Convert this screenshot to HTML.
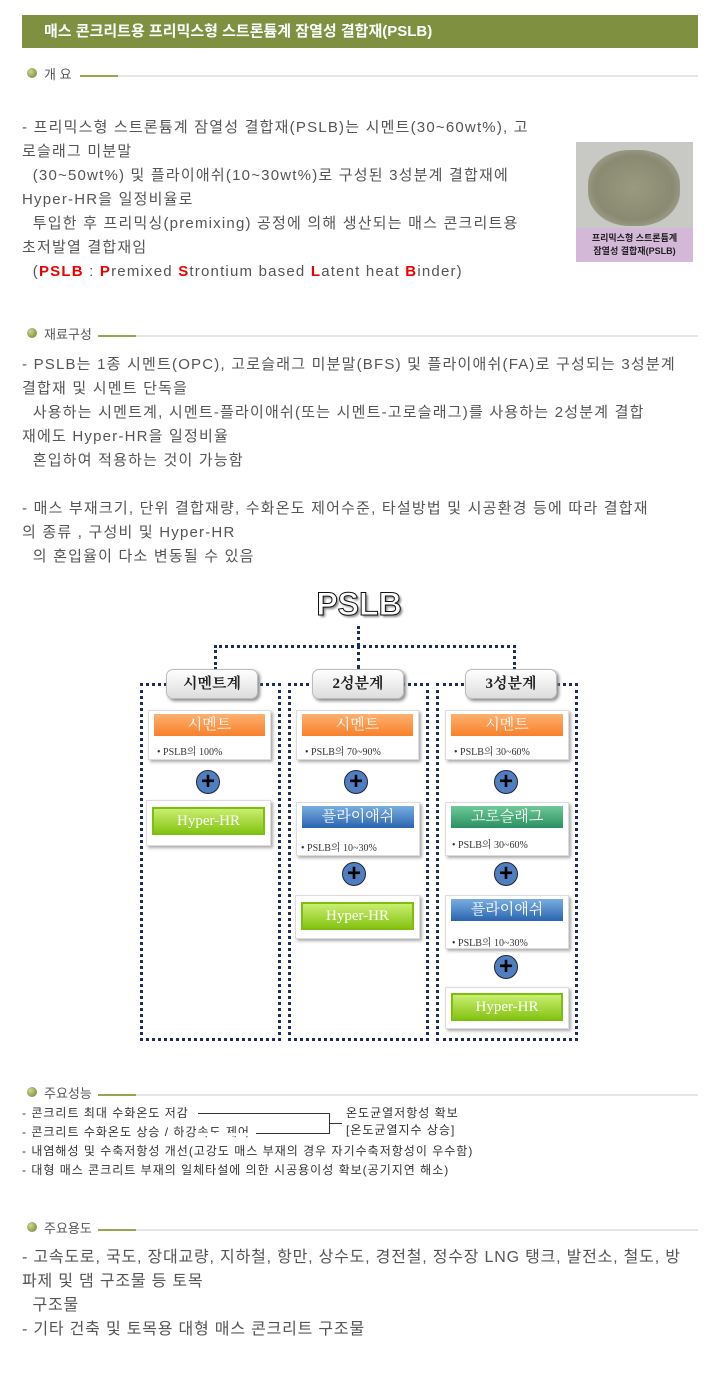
<!DOCTYPE html>
<html><head><meta charset="utf-8"><style>
body{margin:0;width:720px;height:1377px;background:#fff;position:relative;font-family:"Liberation Sans","Noto Sans CJK KR",sans-serif;color:#555;overflow:hidden}
.a{position:absolute;white-space:nowrap}
.hdr{left:22px;top:15px;width:676px;height:33px;background:#7f9140;color:#fff;font-weight:bold;font-size:15px;line-height:33px;padding-left:22px;box-sizing:border-box}
.sh{position:absolute;left:22px;height:20px;width:676px}
.sh .dot{position:absolute;left:5px;top:4px;width:10px;height:10px;border-radius:50%;background:radial-gradient(circle at 35% 35%,#c9d890,#6d7f2c)}
.sh .t{position:absolute;left:22px;top:0;font-size:13px;color:#555}
.sh .ln{position:absolute;right:0;top:11px;height:2px;background:#e5e5e5}
.sh .g{position:absolute;top:11px;height:2px;width:38px;background:#96a550}
.tx{font-size:15px;line-height:24px;color:#555;letter-spacing:1.2px}
.col{position:absolute;border:3px dotted #1e2b5e;box-sizing:border-box}
.lab{position:absolute;height:28px;border-radius:7px;background:linear-gradient(#fff,#ddd);box-shadow:2px 2px 3px #888;border:1px solid #bbb;font-family:"Liberation Serif","Noto Serif CJK SC",serif;font-size:15px;font-weight:bold;color:#222;text-align:center;line-height:28px}
.card{position:absolute;background:#fff;border:1px solid #ddd;box-shadow:2px 2px 3px #aaa}
.bar{position:absolute;left:5px;right:5px;height:22px;color:#fff;text-align:center;font-family:"Liberation Serif","Noto Serif CJK SC",serif;font-size:15px;line-height:22px}
.or{background:linear-gradient(#ffb070,#f7802a)}
.gr{background:linear-gradient(#c8ee70,#86c414);border:2px solid #7cbf10;box-sizing:border-box;line-height:20px}
.bl{background:linear-gradient(#7aaee0,#2a64b0)}
.gn{background:linear-gradient(#70c898,#2a9060)}
.pc{position:absolute;font-size:10px;color:#333;font-family:"Liberation Serif","Noto Serif CJK SC",serif}
.plus{position:absolute;width:24px;height:24px;border-radius:50%;background:#4f7fc0;border:1px solid #223;box-sizing:border-box;color:#000;font-size:24px;font-weight:bold;line-height:21px;text-align:center}
.sm{font-size:12px;color:#333;line-height:19px;letter-spacing:1px}
.dv{position:absolute;border-style:dotted;border-color:#1e2b5e;border-width:0}
</style></head><body>
<div class="a hdr">매스 콘크리트용 프리믹스형 스트론튬계 잠열성 결합재(PSLB)</div>

<div class="sh" style="top:64px"><div class="dot"></div><div class="t">개 요</div><div class="ln" style="left:58px"></div><div class="g" style="left:58px"></div></div>
<div class="a tx" style="left:22px;top:116px">- 프리믹스형 스트론튬계 잠열성 결합재(PSLB)는 시멘트(30~60wt%), 고<br>로슬래그 미분말<br>&nbsp; (30~50wt%) 및 플라이애쉬(10~30wt%)로 구성된 3성분계 결합재에<br>Hyper-HR을 일정비율로<br>&nbsp; 투입한 후 프리믹싱(premixing) 공정에 의해 생산되는 매스 콘크리트용<br>초저발열 결합재임<br>&nbsp; (<b style="color:#e00">PSLB</b> : <b style="color:#e00">P</b>remixed <b style="color:#e00">S</b>trontium based <b style="color:#e00">L</b>atent heat <b style="color:#e00">B</b>inder)</div>
<div class="a" style="left:576px;top:142px;width:117px;height:120px;background:#c8c8c4">
<div style="position:absolute;left:12px;top:8px;width:92px;height:76px;border-radius:45%;background:radial-gradient(#9a9a80,#8a8a72 60%,#b8b8ae)"></div>
<div style="position:absolute;left:0;top:86px;width:117px;height:34px;background:#d4b8d8;color:#222;font-size:9px;font-weight:bold;text-align:center;line-height:13px;padding-top:4px;box-sizing:border-box">프리믹스형 스트론튬계<br>잠열성 결합재(PSLB)</div></div>

<div class="sh" style="top:324px"><div class="dot"></div><div class="t">재료구성</div><div class="ln" style="left:76px"></div><div class="g" style="left:76px"></div></div>
<div class="a tx" style="left:22px;top:353px">- PSLB는 1종 시멘트(OPC), 고로슬래그 미분말(BFS) 및 플라이애쉬(FA)로 구성되는 3성분계<br>결합재 및 시멘트 단독을<br>&nbsp; 사용하는 시멘트계, 시멘트-플라이애쉬(또는 시멘트-고로슬래그)를 사용하는 2성분계 결합<br>재에도 Hyper-HR을 일정비율<br>&nbsp; 혼입하여 적용하는 것이 가능함<br><br>- 매스 부재크기, 단위 결합재량, 수화온도 제어수준, 타설방법 및 시공환경 등에 따라 결합재<br>의 종류 , 구성비 및 Hyper-HR<br>&nbsp; 의 혼입율이 다소 변동될 수 있음</div>

<!-- diagram -->
<div class="a" style="left:300px;top:586px;width:118px;text-align:center;font-size:32px;font-weight:bold;-webkit-text-stroke:1px #111;text-shadow:2px 2px 2px #888;color:#fff">PSLB</div>
<div class="dv" style="left:357px;top:626px;height:20px;border-left-width:3px"></div>
<div class="dv" style="left:214px;top:645px;width:296px;height:22px;border-top-width:3px;border-left-width:3px;border-right-width:3px"></div>
<div class="dv" style="left:357px;top:645px;height:24px;border-left-width:3px"></div>
<div class="col" style="left:140px;top:683px;width:141px;height:358px"></div>
<div class="col" style="left:288px;top:683px;width:141px;height:358px"></div>
<div class="col" style="left:436px;top:683px;width:142px;height:358px"></div>
<div class="lab" style="left:166px;top:669px;width:90px">시멘트계</div>
<div class="lab" style="left:312px;top:669px;width:90px">2성분계</div>
<div class="lab" style="left:465px;top:669px;width:90px">3성분계</div>

<div class="card" style="left:148px;top:710px;width:121px;height:48px"><div class="bar or" style="top:3px">시멘트</div><div class="pc" style="left:8px;top:32px">• PSLB의 100%</div></div>
<div class="plus" style="left:196px;top:770px">+</div>
<div class="card" style="left:146px;top:800px;width:123px;height:44px"><div class="bar gr" style="top:6px;height:28px;line-height:24px">Hyper-HR</div></div>

<div class="card" style="left:296px;top:710px;width:121px;height:48px"><div class="bar or" style="top:3px">시멘트</div><div class="pc" style="left:8px;top:32px">• PSLB의 70~90%</div></div>
<div class="plus" style="left:344px;top:770px">+</div>
<div class="card" style="left:296px;top:802px;width:122px;height:52px"><div class="bar bl" style="top:3px">플라이애쉬</div><div class="pc" style="left:4px;top:36px">• PSLB의 10~30%</div></div>
<div class="plus" style="left:342px;top:862px">+</div>
<div class="card" style="left:295px;top:895px;width:123px;height:42px"><div class="bar gr" style="top:6px;height:28px;line-height:24px">Hyper-HR</div></div>

<div class="card" style="left:445px;top:710px;width:122px;height:48px"><div class="bar or" style="top:3px">시멘트</div><div class="pc" style="left:8px;top:32px">• PSLB의 30~60%</div></div>
<div class="plus" style="left:494px;top:770px">+</div>
<div class="card" style="left:445px;top:802px;width:122px;height:52px"><div class="bar gn" style="top:3px">고로슬래그</div><div class="pc" style="left:6px;top:33px">• PSLB의 30~60%</div></div>
<div class="plus" style="left:494px;top:862px">+</div>
<div class="card" style="left:445px;top:895px;width:122px;height:52px"><div class="bar bl" style="top:3px">플라이애쉬</div><div class="pc" style="left:6px;top:38px">• PSLB의 10~30%</div></div>
<div class="plus" style="left:494px;top:955px">+</div>
<div class="card" style="left:445px;top:987px;width:122px;height:40px"><div class="bar gr" style="top:5px;height:28px;line-height:24px">Hyper-HR</div></div>

<div class="sh" style="top:1083px"><div class="dot"></div><div class="t">주요성능</div><div class="ln" style="left:76px"></div><div class="g" style="left:76px"></div></div>
<div class="a sm" style="left:22px;top:1104px">- 콘크리트 최대 수화온도 저감<br>- 콘크리트 수화온도 상승 / 하강속도 제어<br>- 내염해성 및 수축저항성 개선(고강도 매스 부재의 경우 자기수축저항성이 우수함)<br>- 대형 매스 콘크리트 부재의 일체타설에 의한 시공용이성 확보(공기지연 해소)</div>
<div class="a" style="left:198px;top:1113px;width:132px;height:21px;border-top:1px solid #333;border-bottom:1px solid #333;border-right:1px solid #333;border-left:0;box-sizing:border-box"></div>
<div class="a" style="left:198px;top:1133px;width:58px;height:3px;background:#fff"></div>
<div class="a" style="left:330px;top:1123px;width:12px;border-top:1px solid #333"></div>
<div class="a sm" style="left:346px;top:1105px;line-height:17px">온도균열저항성 확보<br>[온도균열지수 상승]</div>

<div class="sh" style="top:1218px"><div class="dot"></div><div class="t">주요용도</div><div class="ln" style="left:76px"></div><div class="g" style="left:76px"></div></div>
<div class="a tx" style="left:22px;top:1246px;font-size:16px;letter-spacing:0.8px">- 고속도로, 국도, 장대교량, 지하철, 항만, 상수도, 경전철, 정수장 LNG 탱크, 발전소, 철도, 방<br>파제 및 댐 구조물 등 토목<br>&nbsp; 구조물<br>- 기타 건축 및 토목용 대형 매스 콘크리트 구조물</div>
</body></html>
